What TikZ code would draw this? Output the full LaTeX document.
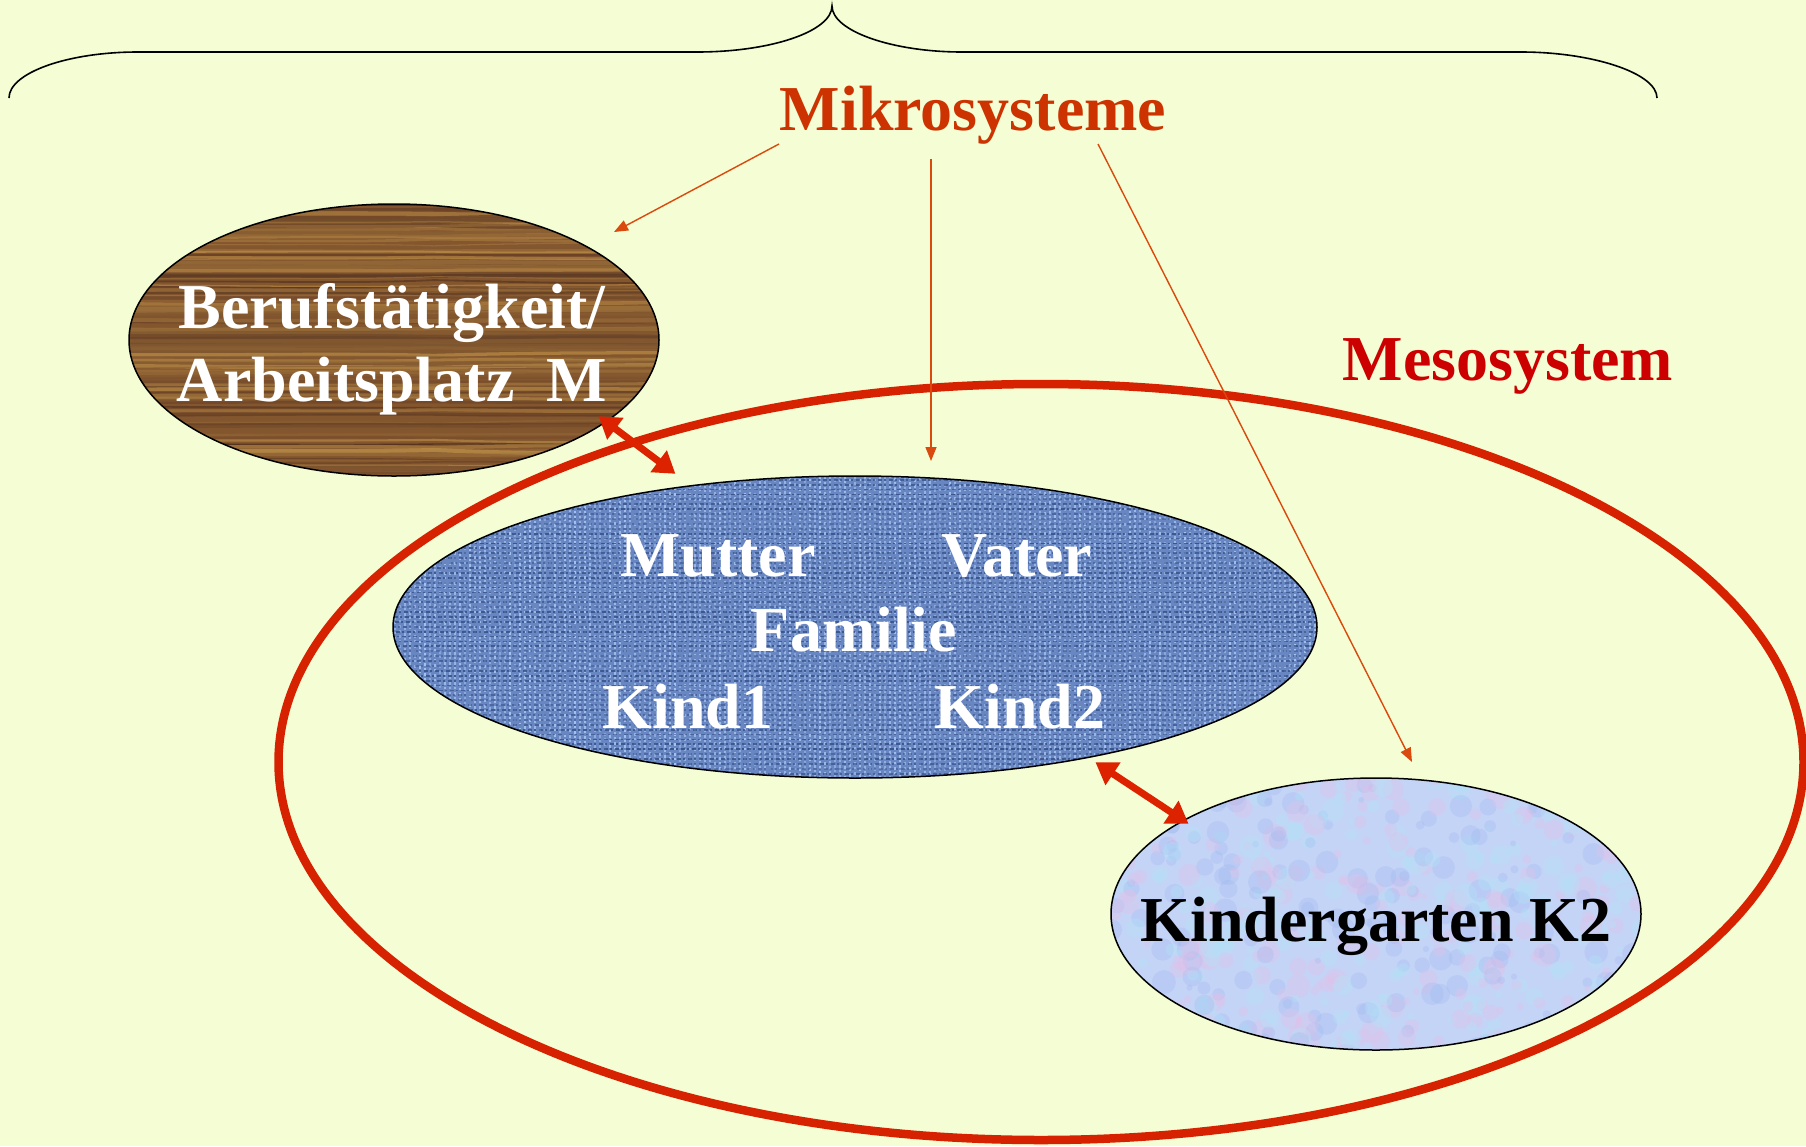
\documentclass[tikz,border=0pt]{standalone}
\usepackage{fontspec}
\setmainfont{Liberation Serif}
\usetikzlibrary{arrows.meta,shapes.geometric,calc}
\definecolor{bgcol}{RGB}{244,253,211}
\definecolor{mikrocol}{RGB}{204,51,0}
\definecolor{mesocol}{RGB}{204,0,0}
\definecolor{ringcol}{RGB}{214,34,0}
\definecolor{thincol}{RGB}{218,74,14}
\definecolor{dblcol}{RGB}{221,34,0}
\definecolor{woodbase}{RGB}{132,86,46}
\definecolor{wooddark}{RGB}{74,40,28}
\definecolor{woodlight}{RGB}{186,140,70}
\definecolor{denimbase}{RGB}{104,134,194}
\definecolor{denimdark}{RGB}{44,68,122}
\definecolor{denimlight}{RGB}{172,200,242}
\definecolor{kgbase}{RGB}{196,212,246}
\definecolor{kgpink}{RGB}{232,190,232}
\definecolor{kgcyan}{RGB}{176,228,248}
\definecolor{kgblue}{RGB}{160,184,240}
\tikzset{
  bigtext/.style={font=\fontsize{64}{70}\selectfont\bfseries, inner sep=0pt, anchor=base},
  whitetext/.style={bigtext, text=white},
  systemoval/.style={ellipse, draw=black, line width=1.5pt, inner sep=0pt},
  thinarrow/.style={draw=thincol, line width=1.4pt, -{Triangle[length=14pt,width=11pt]}},
  dblarrow/.style={draw=dblcol, line width=7pt, {Triangle[length=21pt,width=26pt]}-{Triangle[length=21pt,width=26pt]}, shorten <=-3pt, shorten >=-3pt},
}
\begin{document}
\begin{tikzpicture}[x=1pt,y=-1pt]
\pgfmathsetseed{7}
\fill[bgcol] (0,0) rectangle (1806,1146);
\useasboundingbox (0,0) rectangle (1806,1146);

% brace
\draw[black, line width=1.6pt]
  (9,98) .. controls (9,73) and (67,52) .. (138,52) -- (697,52)
  .. controls (772,52) and (832,31) .. (832,6)
  .. controls (832,31) and (892,52) .. (962,52) -- (1521,52)
  .. controls (1592,52) and (1657,73) .. (1657,98);

% mesosystem ring
\node[ellipse, draw=ringcol, line width=8.5pt, minimum width=1525, minimum height=756, inner sep=0pt] (meso) at (1041,762) {};

% Berufstaetigkeit (wood)
\node[systemoval, minimum width=530, minimum height=272,
  path picture={
    \begin{scope}[shift={(path picture bounding box.center)}]
      \fill[woodbase] (-300,-160) rectangle (300,160);
      \foreach \i in {0,...,110}{
        \pgfmathsetmacro\yy{-150+2.7*\i}
        \pgfmathsetmacro\mix{int(100*rnd)}
        \pgfmathsetmacro\ww{0.8+3.6*rnd}
        \pgfmathsetmacro\da{5*rnd-2.5}
        \pgfmathsetmacro\db{5*rnd-2.5}
        \pgfmathsetmacro\dc{5*rnd-2.5}
        \pgfmathsetmacro\op{0.35+0.55*rnd}
        \draw[line width=\ww pt, wooddark!\mix!woodlight, opacity=\op]
          (-290,\yy) .. controls (-150,\yy+\da) and (-50,\yy+\db) .. (40,\yy+\da)
          .. controls (130,\yy+\dc) and (200,\yy+\db) .. (290,\yy+\dc);
      }
    \end{scope}
  }] (beruf) at (394,340) {};
\node[whitetext] (beruf1) at (392,328) {Berufstätigkeit/};
\node[whitetext] (beruf2) at (392,401) {Arbeitsplatz\ \ M};

% Familie (denim)
\node[systemoval, minimum width=924, minimum height=302,
  path picture={
    \begin{scope}[shift={(path picture bounding box.center)}]
      \fill[denimbase] (-480,-170) rectangle (480,170);
      \foreach \i in {0,...,190}{
        \pgfmathsetmacro\xx{-475+5*\i}
        \pgfmathsetmacro\ph{6*rnd}
        \pgfmathsetmacro\op{0.45+0.45*rnd}
        \draw[denimlight, line width=2.2pt, opacity=\op, dash pattern=on 3pt off 2pt on 2pt off 3pt, dash phase=\ph pt] (\xx,-160) -- (\xx,160);
      }
      \foreach \j in {0,...,66}{
        \pgfmathsetmacro\yy{-162+4.9*\j}
        \pgfmathsetmacro\ph{6*rnd}
        \pgfmathsetmacro\op{0.35+0.4*rnd}
        \draw[denimdark, line width=1.8pt, opacity=\op, dash pattern=on 2pt off 3pt on 4pt off 2pt, dash phase=\ph pt] (-475,\yy) -- (475,\yy);
      }
    \end{scope}
  }] (familie) at (855,627) {};
\node[whitetext] (mutter) at (718,576) {Mutter};
\node[whitetext] (vater) at (1017,576) {Vater};
\node[whitetext] (famtext) at (854,651) {Familie};
\node[whitetext] (kind1) at (688,728) {Kind1};
\node[whitetext] (kind2) at (1020,728) {Kind2};

% Kindergarten (pastel)
\node[systemoval, minimum width=530, minimum height=272,
  path picture={
    \begin{scope}[shift={(path picture bounding box.center)}]
      \fill[kgbase] (-300,-160) rectangle (300,160);
      \foreach \k in {1,...,700}{
        \pgfmathsetmacro\xx{-280+560*rnd}
        \pgfmathsetmacro\yy{-150+300*rnd}
        \pgfmathsetmacro\rr{3+9*rnd}
        \pgfmathsetmacro\cc{int(3*rnd)}
        \ifcase\cc
          \fill[kgpink, opacity=0.3] (\xx,\yy) circle (\rr pt);
        \or
          \fill[kgcyan, opacity=0.35] (\xx,\yy) circle (\rr pt);
        \else
          \fill[kgblue, opacity=0.3] (\xx,\yy) circle (\rr pt);
        \fi
      }
    \end{scope}
  }] (kiga) at (1376,914) {};
\node[bigtext, text=black] (kigatext) at (1376,941) {Kindergarten K2};

% labels
\node[bigtext, text=mikrocol] (mikro) at (973,130) {Mikrosysteme};
\node[bigtext, text=mesocol] (mesotext) at (1508,380) {Mesosystem};

% thin arrows from Mikrosysteme
\coordinate (m1) at (779,144);
\coordinate (m2) at (931,159);
\coordinate (m3) at (1098,144);
\coordinate (e1) at (614,232);
\coordinate (e2) at (931,461);
\coordinate (e3) at (1412,762);
\draw[thinarrow] (m1) -- (e1);
\draw[thinarrow] (m2) -- (e2);
\draw[thinarrow] (m3) -- (e3);

% double arrows
\coordinate (d1a) at (601,418);
\coordinate (d1b) at (673,472);
\coordinate (d2a) at (1098,764);
\coordinate (d2b) at (1186,822);
\draw[dblarrow] (d1a) -- (d1b);
\draw[dblarrow] (d2a) -- (d2b);
\end{tikzpicture}
\end{document}
